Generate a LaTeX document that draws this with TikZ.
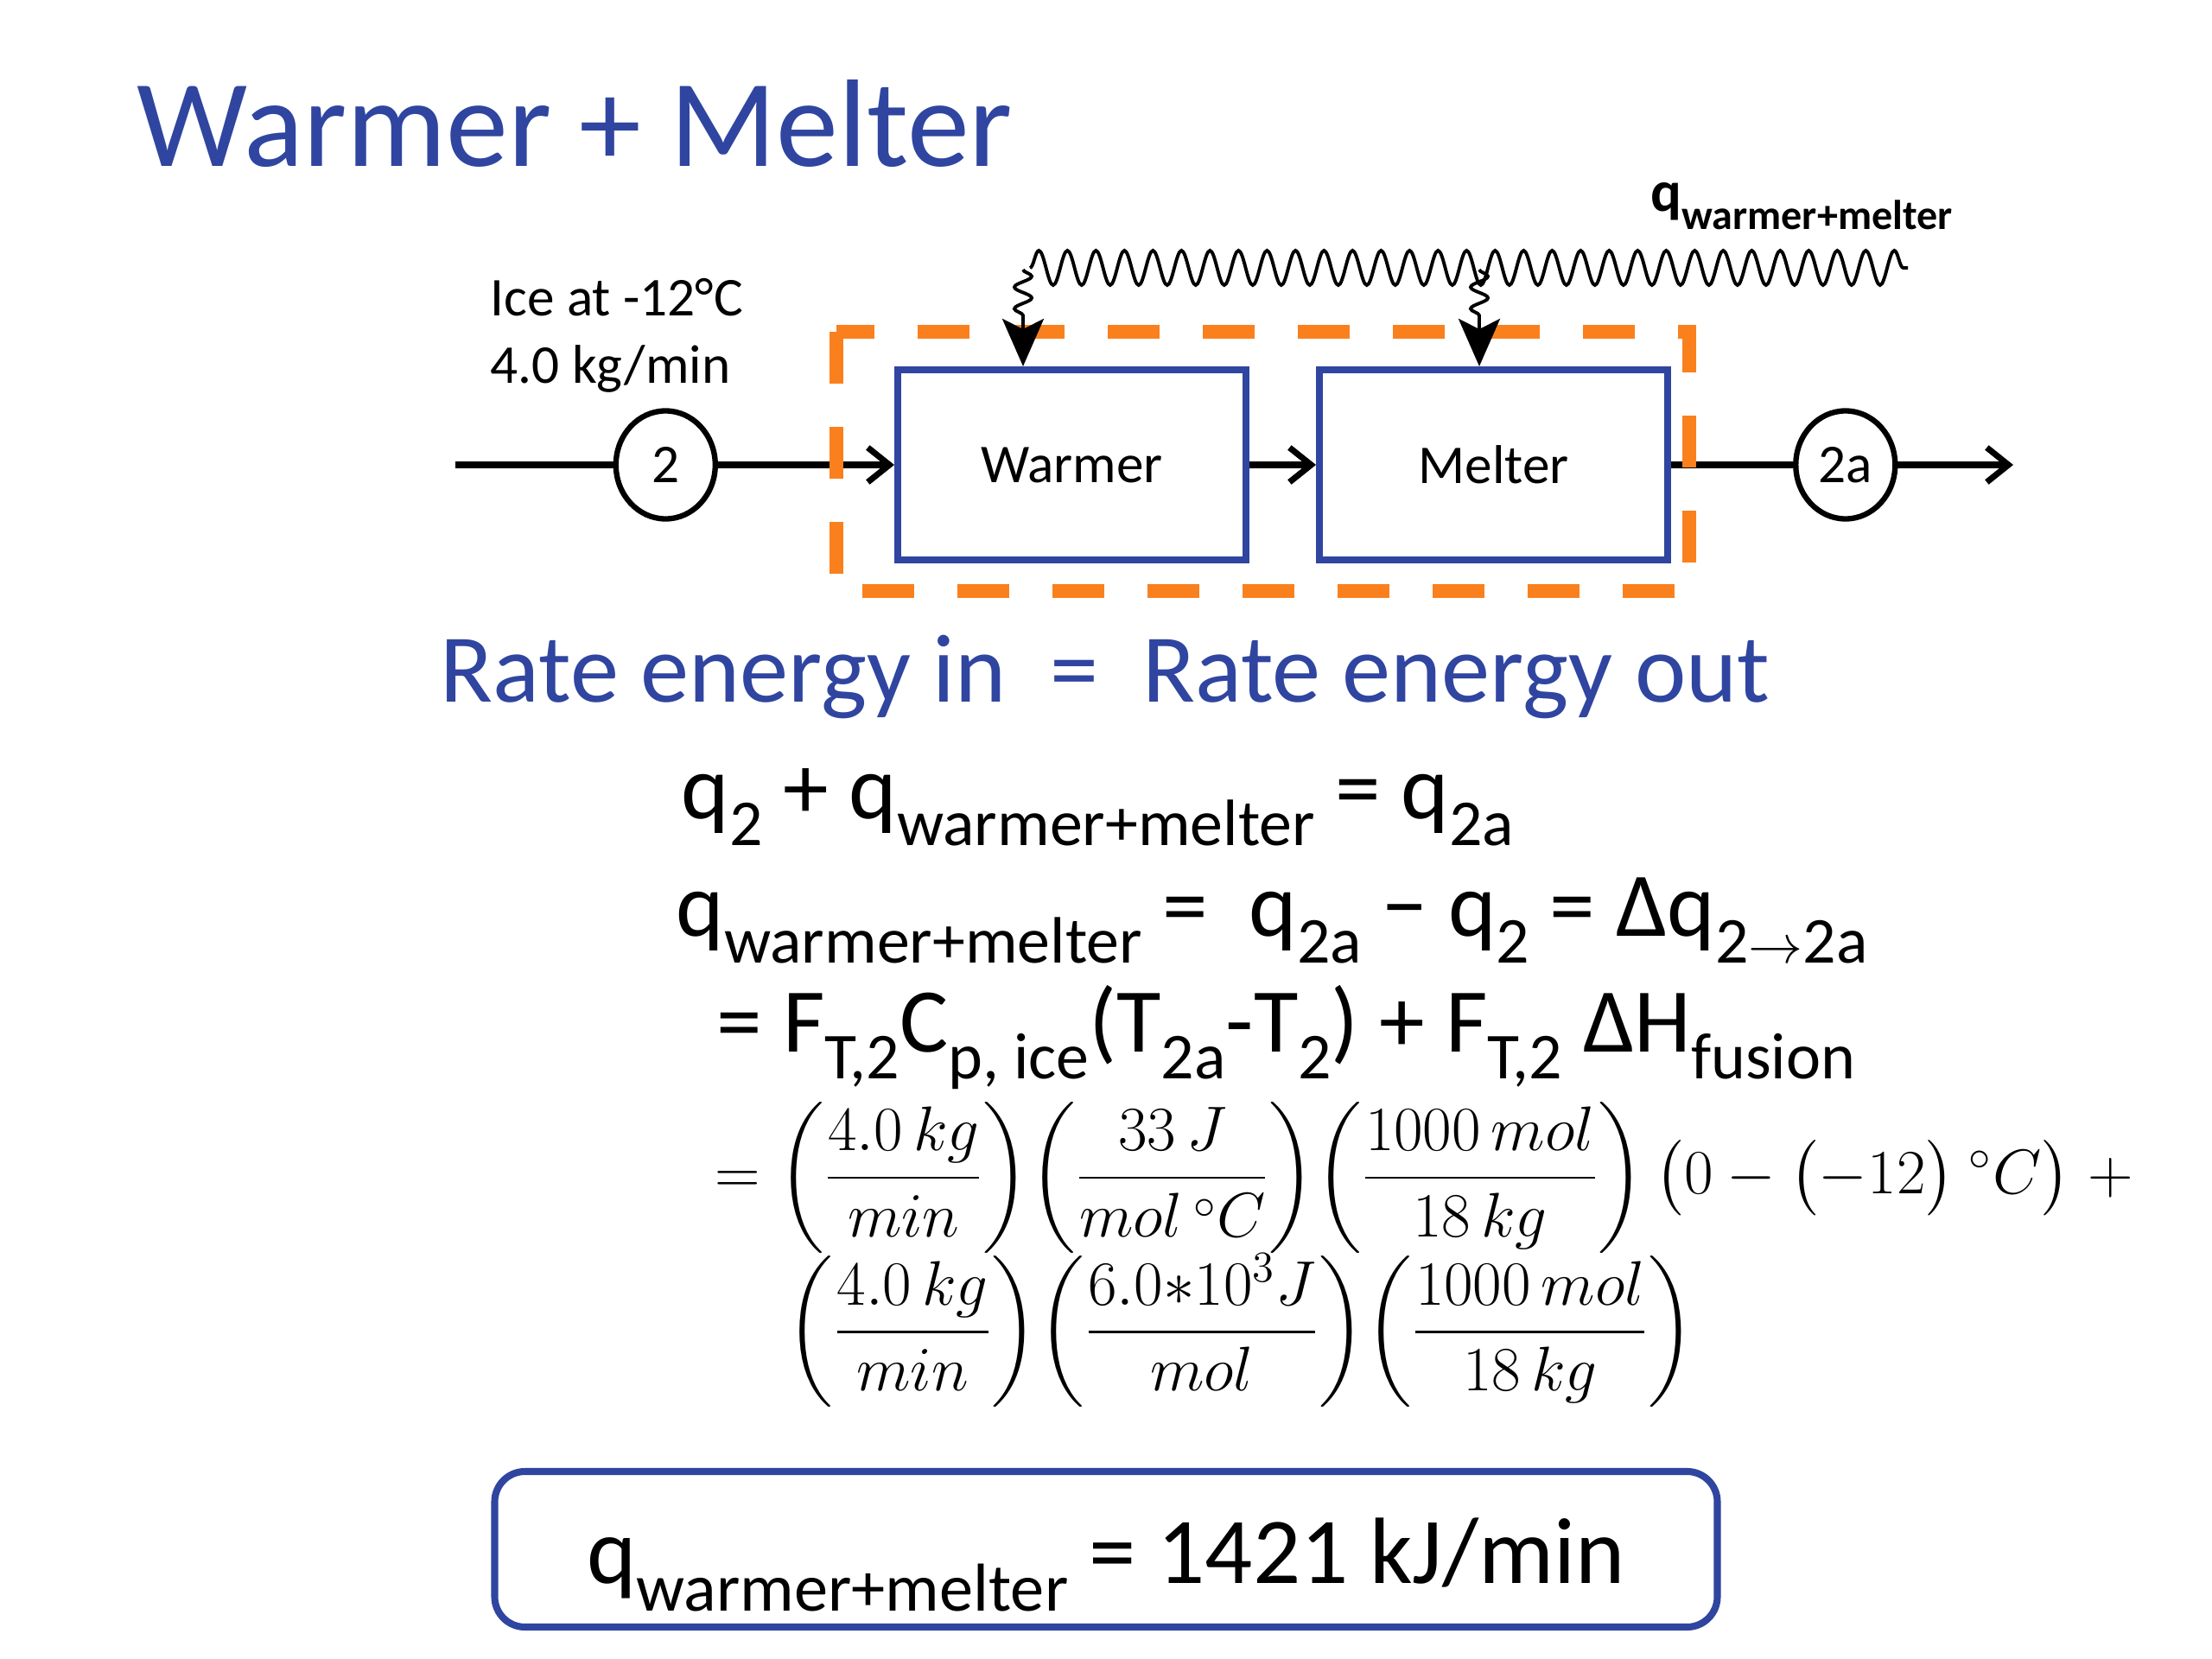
\documentclass[tikz,border=0pt]{standalone}
\usepackage[no-math]{fontspec}
\setmainfont{Carlito}
\usepackage{amsmath}
\usetikzlibrary{
    arrows.meta,
    shapes.geometric,
    positioning,
    decorations.pathmorphing
}
\definecolor{slideblue}{RGB}{47,69,160}
\definecolor{sysorange}{RGB}{250,128,30}
\tikzstyle{unit} = [
    rectangle,
    draw=slideblue,
    line width=2.3pt,
    minimum width=4.03cm,
    minimum height=2.2cm,
    font=\fontsize{18}{22}\selectfont
]
\tikzstyle{stream} = [
    ellipse,
    draw,
    line width=1.8pt,
    minimum width=1.15cm,
    minimum height=1.25cm,
    inner sep=0pt,
    font=\fontsize{18}{22}\selectfont
]
\tikzstyle{flow} = [
    -{Straight Barb[length=0.25cm,width=0.4cm]},
    line width=2pt
]
\tikzstyle{heat} = [
    decorate,
    decoration={snake, amplitude=0.2cm, segment length=0.33cm},
    line width=1.1pt
]
\tikzstyle{heatin} = [
    decorate,
    decoration={snake, amplitude=0.1cm, segment length=0.25cm, post length=0.55cm},
    line width=1.1pt,
    -{Stealth[length=0.55cm,width=0.48cm,inset=0.12cm]}
]
\tikzstyle{sysbound} = [
    draw=sysorange,
    line width=4.5pt,
    dash pattern=on 0.6cm off 0.5cm
]
\tikzstyle{eqn} = [
    anchor=base west,
    inner sep=0pt,
    font=\fontsize{30}{36}\selectfont
]
\tikzstyle{calc} = [
    anchor=west,
    inner sep=0pt,
    font=\fontsize{21.5}{26}\selectfont
]
\newcommand{\sbs}[1]{\raisebox{-0.3em}{\scalebox{0.72}{#1}}}

\begin{document}
\begin{tikzpicture}
        \useasboundingbox (0,0) rectangle (25.6,-19.2);

        % Title
        \node[anchor=base west, inner sep=0pt, text=slideblue, font=\fontsize{41}{50}\selectfont] (title) at (1.58,-1.93) {Warmer + Melter};

        % Units
        \node[unit] (warmer) at (12.405,-5.38) {Warmer};
        \node[unit, right=0.77cm of warmer] (melter) {Melter};

        % Streams
        \node[stream, left=2.04cm of warmer] (s2) {2};
        \node[stream, right=1.41cm of melter] (s2a) {2a};
        \coordinate (feed) at (5.27,-5.38);
        \coordinate (prod) at (23.30,-5.38);

        \node[anchor=north west, inner sep=0pt, align=left, font=\fontsize{18}{22}\selectfont] (feedinfo) at (5.67,-3.22) {Ice at -12°C\\4.0 kg/min};

        \draw[line width=2pt] (feed) -- (s2);
        \draw[flow] (s2) -- (warmer);
        \draw[flow] (warmer) -- (melter);
        \draw[line width=2pt] (melter) -- (s2a);
        \draw[flow] (s2a) -- (prod);

        % System boundary
        \draw[sysbound] (9.68,-3.84) rectangle (19.55,-6.84);

        % Heat input
        \coordinate (qstart) at (11.92,-3.1);
        \coordinate (qend) at (22.08,-3.1);
        \coordinate (qw) at (11.84,-3.12);
        \coordinate (qm) at (17.12,-3.12);
        \draw[heat] (qstart) -- (qend);
        \draw[heatin] (qw) -- (qw |- warmer.north);
        \draw[heatin] (qm) -- (qm |- melter.north);
        \node[anchor=base west, inner sep=0pt, font=\fontsize{19}{23}\selectfont\bfseries] (qlabel) at (19.10,-2.45) {q\sbs{warmer+melter}};

        % Energy balance
        \node[anchor=base west, inner sep=0pt, text=slideblue, font=\fontsize{32}{38}\selectfont] (balance) at (5.09,-8.12) {Rate energy in \ = \ Rate energy out};
        \node[eqn] (eq1) at (7.88,-9.47) {q\sbs{2} + q\sbs{warmer+melter} = q\sbs{2a}};
        \node[eqn] (eq2) at (7.82,-10.83) {q\sbs{warmer+melter} = \ q\sbs{2a} − q\sbs{2} = Δq\sbs{2$\to$2a}};
        \node[eqn] (eq3) at (8.29,-12.17) {= F\sbs{T,2}C\sbs{p, ice}(T\sbs{2a}-T\sbs{2}) + F\sbs{T,2} ΔH\sbs{fusion}};
        \node[calc] (eq4) at (8.27,-13.63)
            {$=\left(\dfrac{4.0\,kg}{min}\right)\!\left(\dfrac{33\,J}{mol\,{}^{\circ}C}\right)\!\left(\dfrac{1000\,mol}{18\,kg}\right)\bigl(0-\bigl(-12\bigr)\ {}^{\circ}C\bigr)\;+$};
        \node[calc] (eq5) at (9.10,-15.40)
            {$\left(\dfrac{4.0\,kg}{min}\right)\!\left(\dfrac{6.0{*}10^{3}J}{mol}\right)\!\left(\dfrac{1000\,mol}{18\,kg}\right)$};

        % Result
        \node[draw=slideblue, line width=2.3pt, rounded corners=0.35cm, minimum width=14.15cm, minimum height=1.8cm] (result) at (12.8,-17.93) {};
        \node[anchor=base, inner sep=0pt, font=\fontsize{31}{37}\selectfont] (resulttext) at (12.8,-18.32) {q\sbs{warmer+melter} = 1421 kJ/min};
\end{tikzpicture}
\end{document}
